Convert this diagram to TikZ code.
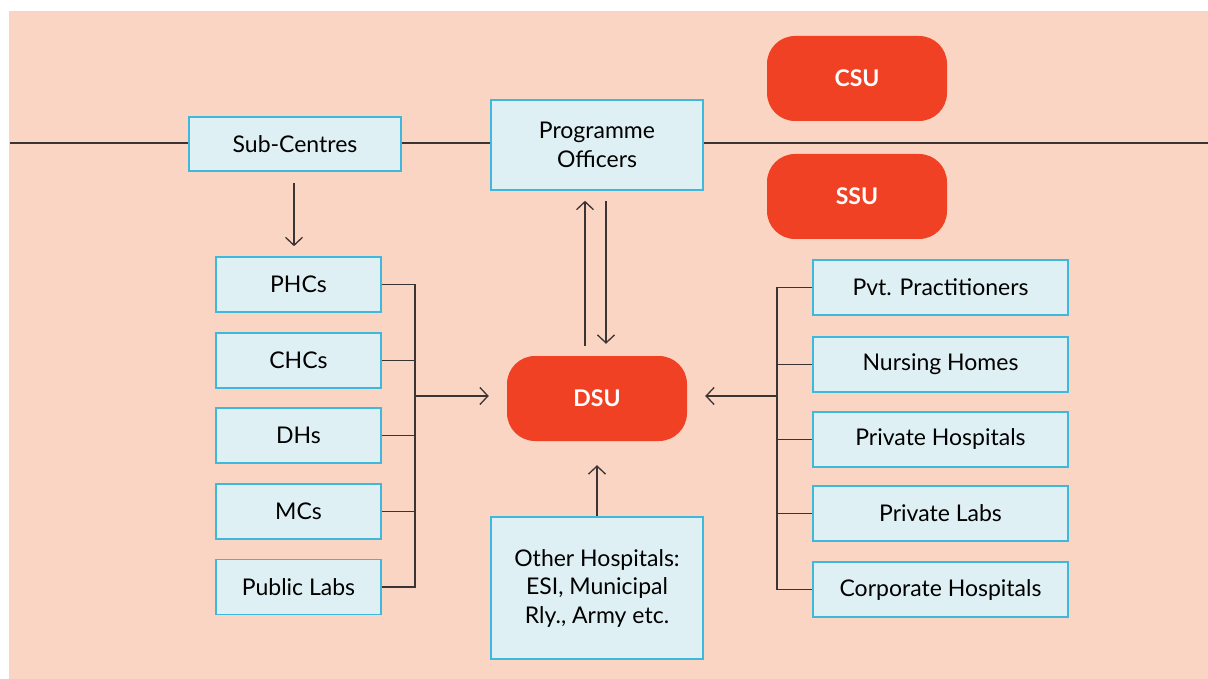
\documentclass[tikz,border=0pt]{standalone}
\usepackage{fontspec}
\setmainfont{Lato}
\usetikzlibrary{arrows.meta,calc}
\definecolor{peach}{HTML}{FBD5C3}
\definecolor{boxfill}{HTML}{DFF0F5}
\definecolor{boxline}{HTML}{3FB8DE}
\definecolor{redu}{HTML}{F04124}
\definecolor{linec}{HTML}{3A3434}
\tikzset{
  bluebox/.style={draw=boxline, fill=boxfill, line width=1.6pt, align=center, font=\fontsize{23}{28.5}\selectfont, text=black, inner sep=0pt},
  redbox/.style={fill=redu, rounded corners=28pt, minimum width=180pt, minimum height=85pt, text=white, font=\fontsize{23}{28}\selectfont\bfseries, inner sep=0pt},
  conn/.style={draw=linec, line width=1.5pt},
  arr/.style={conn, -{Straight Barb[length=8pt,width=17pt,line width=1.3pt]}},
}
\begin{document}
\begin{tikzpicture}[x=1pt,y=-1pt]
\useasboundingbox (0,0) rectangle (1208,679);
\fill[white] (0,0) rectangle (1208,679);
\fill[peach] (9,11) rectangle (1208,679);

% nodes
\node[bluebox, minimum width=212pt, minimum height=54pt] (sub) at (295,144) {Sub-Centres};
\node[bluebox, minimum width=212pt, minimum height=90pt] (po) at (597,145) {Programme\\Officers};
\node[redbox] (csu) at (857,78.5) {CSU};
\node[redbox] (ssu) at (857,196.5) {SSU};
\node[redbox] (dsu) at (597,398.5) {DSU};

\foreach \n/\t/\y in {phc/PHCs/284.5, chc/CHCs/360.5, dh/DHs/435.5, mc/MCs/511.5, pl/Public Labs/587}
  \node[bluebox, minimum width=165pt, minimum height=55pt] (\n) at (298.5,\y) {\t};

\foreach \n/\t/\y in {pp/Pvt. Practitioners/287.5, nh/Nursing Homes/364.5, ph/Private Hospitals/439.5, plb/Private Labs/513.5, ch/Corporate Hospitals/589.5}
  \node[bluebox, minimum width=255pt, minimum height=55pt] (\n) at (940.5,\y) {\t};

\node[bluebox, minimum width=212pt, minimum height=142pt] (oth) at (597,588) {Other Hospitals:\\ESI, Municipal\\Rly., Army etc.};

% horizontal line
\coordinate (hl) at (10,143);
\coordinate (hr) at (1208,143);
\draw[conn] (hl) -- (hl -| sub.west);
\draw[conn] (hl -| sub.east) -- (hl -| po.west);
\draw[conn] (hl -| po.east) -- (hr);

% Sub-centres to PHCs
\draw[arr] ($(sub.south)+(-1,11)$) -- ($(phc.north)+(-4.5,-10)$);

% left bus
\coordinate (lbt) at (415,284.5);
\coordinate (lbb) at (415,587);
\coordinate (lbm) at (415,396);
\draw[conn] (phc.east) -| (lbt) -- (lbb) -- (pl.east);
\foreach \n in {chc,dh,mc}
  \draw[conn] (\n.east) -- (\n.east -| lbt);
\draw[arr] (lbm) -- ($(dsu.west |- lbm)+(-18,0)$);

% right bus
\coordinate (rbt) at (777,287.5);
\coordinate (rbb) at (777,589.5);
\coordinate (rbm) at (777,396);
\draw[conn] (pp.west) -- (rbt) -- (rbb) -- (ch.west);
\foreach \n in {nh,ph,plb}
  \draw[conn] (\n.west) -- (\n.west -| rbt);
\draw[arr] (rbm) -- ($(dsu.east |- rbm)+(18,0)$);

% DSU <-> PO
\draw[arr] ($(dsu.north)+(-12,-10)$) -- ($(po.south)+(-12,10)$);
\draw[arr] ($(po.south)+(9,10)$) -- ($(dsu.north)+(9,-12)$);

% Other -> DSU
\draw[arr] (oth.north) -- ($(dsu.south)+(0,24)$);
\end{tikzpicture}
\end{document}
